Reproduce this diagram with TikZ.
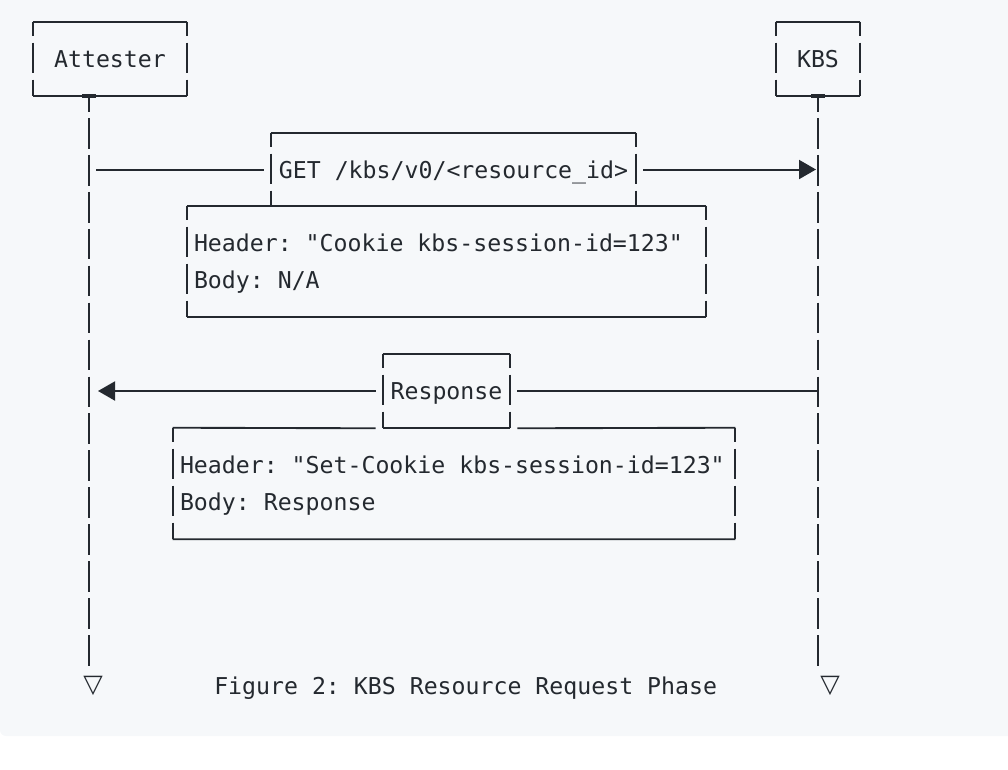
\documentclass[tikz,border=0pt]{standalone}
\usepackage{fontspec}
\setmonofont{DejaVu Sans Mono}
\newfontfamily\shapefont{DejaVu Sans}
\usetikzlibrary{arrows.meta}
\definecolor{ink}{HTML}{24292F}
\definecolor{paper}{HTML}{F6F8FA}

\begin{document}
\begin{tikzpicture}[x=0.75pt, y=-0.75pt, line join=round, color=ink,
		font=\ttfamily\fontsize{17.4}{27.7}\selectfont\frenchspacing,
		edge/.style={draw=ink, line width=1.4pt},
		side/.style={edge, dash pattern=on 22.5pt off 5.2pt, dash phase=12pt},
		lifeline/.style={draw=ink, line width=2.2pt, dash pattern=on 23pt off 4.7pt, dash phase=11.4pt},
		msg/.style={draw=ink, line width=1.5pt, shorten <=5.25pt, shorten >=5.25pt},
		tip/.style={-{Triangle[length=12.75pt, width=14.25pt]}},
		box/.style={inner sep=0pt, text height=13pt, text depth=0pt},
		note/.style={inner xsep=5.25pt, inner ysep=0pt, align=left, text height=13pt, text depth=27.7pt, minimum height=83.25pt},
		stop/.style={inner sep=0pt, font=\shapefont\fontsize{19}{22}\selectfont}]
			\useasboundingbox (0,0) rectangle (1008,769);
			\clip (0,0) rectangle (1008,769);
			\fill[paper, rounded corners=4.5pt] (0,-20) rectangle (1030,736);
			
			% actors
			\node[box, minimum width=115.5pt, minimum height=55.5pt] (att) at (110,59) {Attester};
			\node[box, minimum width=63pt, minimum height=55.5pt] (kbs) at (818,59) {KBS};
			
			% request and response
			\node[box, minimum width=273.75pt, minimum height=54.75pt] (get) at (453.5,169.5) {GET /kbs/v0/<resource\_id>};
			\node[note, text width=378.75pt] (req) at (446.5,261.5) {\spaceskip=0pt\xspaceskip=0pt
				Header: "Cookie kbs-session-id=123"\\Body: N/A};
			\node[box, minimum width=95.25pt, minimum height=55.5pt] (resp) at (446.5,391) {Response};
			\node[note, text width=411pt] (rsp) at (454,483.5) {\spaceskip=0pt\xspaceskip=0pt
				Header: "Set-Cookie kbs-session-id=123"\\Body: Response};
			
			% box outlines, sides broken like text rows
			\foreach \n in {att,kbs,req,resp} {
				\draw[edge] (\n.north west) -- (\n.north east) (\n.south west) -- (\n.south east);
				\draw[side] (\n.north west) -- (\n.south west) (\n.north east) -- (\n.south east);
			}
			\draw[edge] (get.north west) -- (get.north east);
			\draw[side] (get.north west) -- (get.south west) (get.north east) -- (get.south east);
			\draw[edge] (rsp.north west) -- ([shift={(-7,0)}]resp.south west) ([shift={(7,0)}]resp.south east) -- (rsp.north east) (rsp.south west) -- (rsp.south east);
			\draw[side] (rsp.north west) -- (rsp.south west) (rsp.north east) -- (rsp.south east);
			
			% lifelines
			\coordinate (attEnd) at (89,666);
			\coordinate (kbsEnd) at (818,666);
			\coordinate (attTop) at (att.south -| attEnd);
			\coordinate (kbsTop) at (kbs.south);
			\fill ([shift={(-7,-2)}]attTop) rectangle ++(14,4);
			\fill ([shift={(-7,-2)}]kbsTop) rectangle ++(14,4);
			\draw[lifeline] (attTop) -- (attEnd);
			\draw[lifeline] (kbsTop) -- (kbsEnd);
			
			% messages
			\draw[msg] (attEnd |- get) -- (get);
			\draw[msg, tip, shorten >=1.5pt] (get) -- (kbsEnd |- get);
			\draw[msg, shorten <=1pt] (kbsEnd |- resp) -- (resp);
			\draw[msg, tip, shorten >=6.75pt] (resp) -- (attEnd |- resp);
			
			\node[stop] (attStop) at (93,686) {▽};
			\node[stop] (kbsStop) at (830,686) {▽};
			\node[box, anchor=west] (caption) at (214,686) {Figure 2: KBS Resource Request Phase};
		\end{tikzpicture}
\end{document}
